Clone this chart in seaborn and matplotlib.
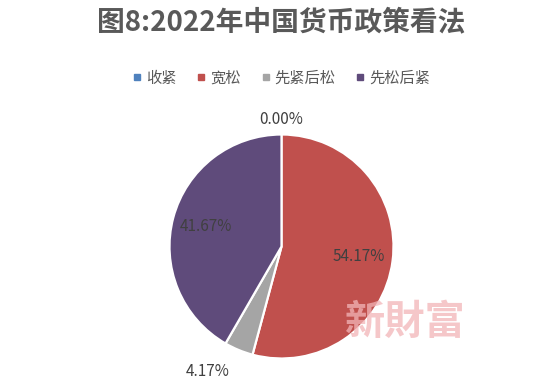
import numpy as np
import matplotlib.pyplot as plt
import seaborn as sns
from matplotlib.lines import Line2D

# chart data
categories = ['收紧', '宽松', '先紧后松', '先松后紧']
shares = [0.00, 54.17, 4.17, 41.67]
colors = ['#4F81BD', '#C0504D', '#A5A5A5', '#5F4B7B']
label_dist = [1.13, 0.70, 1.21, 0.70]   # where each % label sits (in radii)

sns.set_theme(style='white')
plt.rcParams['font.family'] = ['Noto Sans CJK SC', 'DejaVu Sans']

W, H = 554, 385
fig = plt.figure(figsize=(W / 100, H / 100), dpi=100)

# pie placed by its centre and radius in pixels
R = 112
cx, cy = 281.5, 246.5
ax = fig.add_axes([(cx - R) / W, (H - cy - R) / H, 2 * R / W, 2 * R / H])
wedges, _ = ax.pie(shares, colors=colors, startangle=90, counterclock=False,
                   radius=1, wedgeprops=dict(edgecolor='white', linewidth=1.6))
ax.set_xlim(-1, 1)
ax.set_ylim(-1, 1)

total = sum(shares)
start = 90.0
for s, d in zip(shares, label_dist):
    span = 360.0 * s / total
    mid = np.deg2rad(start - span / 2)
    start -= span
    x, y = d * np.cos(mid), d * np.sin(mid)
    ha = 'center'
    if d > 1 and abs(np.cos(mid)) > 0.1:
        ha = 'right' if np.cos(mid) < 0 else 'left'
    ax.text(x, y, f'{s:.2f}%', ha=ha, va='center', fontsize=11,
            color='#404040', clip_on=False)

fig.text(cx / W, 1 - 22 / H, '图8:2022年中国货币政策看法', ha='center', va='center',
         fontsize=20, fontweight='bold', color='#595959')

handles = [Line2D([], [], marker='s', linestyle='none', markersize=5,
                  markerfacecolor=c, markeredgecolor=c) for c in colors]
fig.legend(handles, categories, loc='center', bbox_to_anchor=(cx / W, 1 - 78 / H),
           ncol=4, frameon=False, fontsize=11, handlelength=0.6,
           handletextpad=0.3, columnspacing=1.3, labelcolor='#595959')

# watermark
fig.text(405 / W, 1 - 322 / H, '新財富', ha='center', va='center', fontsize=29,
         fontweight='bold', color='#F2B5B8', alpha=0.75, zorder=10)

fig.savefig('out.png', dpi=100, facecolor='white')
